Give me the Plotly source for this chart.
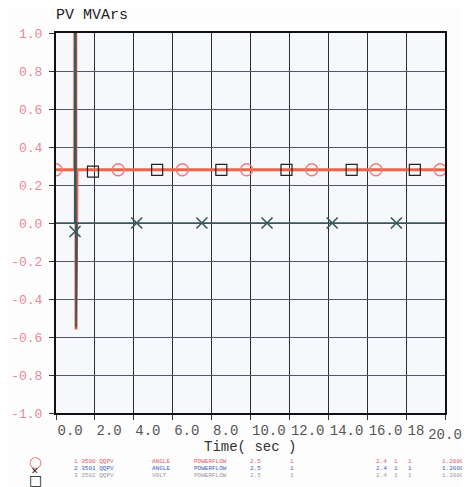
import plotly.graph_objects as go

# channel traces (time in sec, PV MVArs)
time_red = [0.0, 0.96, 1.0, 1.03, 1.08, 20.0]
mvar_red = [0.28, 0.28, 3.0, -0.56, 0.28, 0.28]
time_sq = [0.0, 20.0]
mvar_sq = [0.28, 0.28]
time_dark = [0.0, 0.96, 1.0, 1.03, 1.08, 20.0]
mvar_dark = [0.0, 0.0, 2.5, -0.55, 0.0, 0.0]

# channel marker positions
circle_t = [0.0, 3.2, 6.5, 9.8, 13.15, 16.45, 19.75]
circle_v = [0.28, 0.28, 0.28, 0.28, 0.28, 0.28, 0.28]
square_t = [1.9, 5.2, 8.5, 11.85, 15.2, 18.45]
square_v = [0.27, 0.28, 0.28, 0.28, 0.28, 0.28]
cross_t = [0.98, 4.15, 7.5, 10.85, 14.2, 17.5]
cross_v = [-0.045, 0.0, 0.0, 0.0, 0.0, 0.0]

x_ticks = [0, 2, 4, 6, 8, 10, 12, 14, 16, 18, 20]
x_labels = ['0.0', '2.0', '4.0', '6.0', '8.0', '10.0', '12.0', '14.0', '16.0', '18', '']
y_ticks = [1.0, 0.8, 0.6, 0.4, 0.2, 0.0, -0.2, -0.4, -0.6, -0.8, -1.0]
y_labels = ['1.0', '0.8', '0.6', '0.4', '0.2', '0.0', '-0.2', '-0.4', '-0.6', '-0.8', '-1.0']

# legend table rows (channel, type, case, ... , scale)
legend_cols = [
    ['1 3500 QQPV', '2 3501 QQPV', '3 3502 QQPV'],
    ['ANGLE', 'ANGLE', 'VOLT'],
    ['POWERFLOW', 'POWERFLOW', 'POWERFLOW'],
    ['2.5', '2.5', '2.5'],
    ['1', '1', '1'],
    ['2.4', '2.4', '2.4'],
    ['1', '1', '1'],
    ['1', '1', '1'],
    ['1.2000', '1.2000', '1.2000'],
]
legend_x = [72, 150, 192, 248, 288, 374, 392, 406, 440]
legend_colors = ['#e05a6a', '#3f5fc0', '#9a9a9a']

mono = 'Liberation Mono'
red = '#ef6448'
dark = '#34585c'

fig = go.Figure()

fig.add_trace(go.Scatter(x=time_sq, y=mvar_sq, mode='lines',
                         line=dict(color='#333333', width=1)))
fig.add_trace(go.Scatter(x=time_red, y=mvar_red, mode='lines',
                         line=dict(color=red, width=3)))
fig.add_trace(go.Scatter(x=time_dark, y=mvar_dark, mode='lines',
                         line=dict(color=dark, width=1.6)))

fig.add_trace(go.Scatter(x=circle_t, y=circle_v, mode='markers',
                         marker=dict(symbol='circle-open', size=12, color='#ee7c7c',
                                     line=dict(width=1.5))))
fig.add_trace(go.Scatter(x=square_t, y=square_v, mode='markers',
                         marker=dict(symbol='square-open', size=11, color='#222222',
                                     line=dict(width=1.2))))
fig.add_trace(go.Scatter(x=cross_t, y=cross_v, mode='markers', xaxis='x2',
                         marker=dict(symbol='x-thin-open', size=11, color=dark,
                                     line=dict(width=1.6))))

# page body has an 8px margin, so the figure is 8px smaller than the window
l, b, w, h = 56, 74, 389, 380
def px(x):
    return (x - l) / w
def py(y):
    return (413 - y) / h

ann = [
    dict(x=px(35), y=py(462), text='○', font=dict(family='DejaVu Sans', color='#e87070', size=15)),
    dict(x=px(35), y=py(471), text='✕', font=dict(family='DejaVu Sans', color='#111111', size=9)),
    dict(x=px(35), y=py(480), text='□', font=dict(family='DejaVu Sans', color='#111111', size=14)),
]
for c, col in enumerate(legend_cols):
    for r, txt in enumerate(col):
        ann.append(dict(x=px(legend_x[c]), y=py(461 + 7 * r), text=txt,
                        xanchor='left',
                        font=dict(family=mono, size=6, color=legend_colors[r])))
for a in ann:
    a.update(xref='paper', yref='paper', showarrow=False)
    a.setdefault('xanchor', 'center')
    a['yanchor'] = 'middle'

ann.append(dict(x=px(250), y=py(447), xref='paper', yref='paper', showarrow=False,
                text='Time( sec )', xanchor='center', yanchor='middle',
                font=dict(family=mono, size=14, color='#333333')))
ann.append(dict(x=px(54), y=py(16), xref='paper', yref='paper', showarrow=False,
                text='PV MVArs', xanchor='left', yanchor='middle',
                font=dict(family=mono, size=15, color='#222222')))

fig.update_layout(
    width=462, height=479,
    margin=dict(l=l - 8, r=25, t=33 - 8, b=b, pad=0),
    paper_bgcolor='#fdfdfe',
    plot_bgcolor='#f6f8fb',
    showlegend=False,
    annotations=ann,
    xaxis=dict(range=[0, 20], tickvals=x_ticks, ticktext=x_labels,
               ticklabelposition='outside right', tickangle=0, automargin=False,
               ticks='outside', ticklen=5, tickcolor='#333333',
               ticklabelstandoff=3,
               tickfont=dict(family=mono, size=14, color='#555555'),
               showgrid=True, gridcolor='#2e2e2e', gridwidth=1,
               zeroline=False, showline=True, mirror=True,
               linecolor='#111111', linewidth=2),
    xaxis2=dict(range=[0, 20], overlaying='x', anchor='y', side='bottom',
                tickvals=[20], ticktext=['20.0'], tickangle=0, automargin=False,
                ticks='outside', ticklen=5, tickcolor='rgba(0,0,0,0)',
                ticklabelstandoff=3,
                tickfont=dict(family=mono, size=14, color='#555555'),
                showgrid=False, zeroline=False, showline=False),
    yaxis=dict(range=[-1, 1], tickvals=y_ticks, ticktext=y_labels, automargin=False,
               ticks='outside', ticklen=5, tickcolor='#333333',
               ticklabelstandoff=4,
               tickfont=dict(family=mono, size=13, color='#e48a96'),
               showgrid=True, gridcolor='#4f5a66', gridwidth=1,
               zeroline=False, showline=True, mirror=True,
               linecolor='#111111', linewidth=2),
)

fig.write_html("out.html")
